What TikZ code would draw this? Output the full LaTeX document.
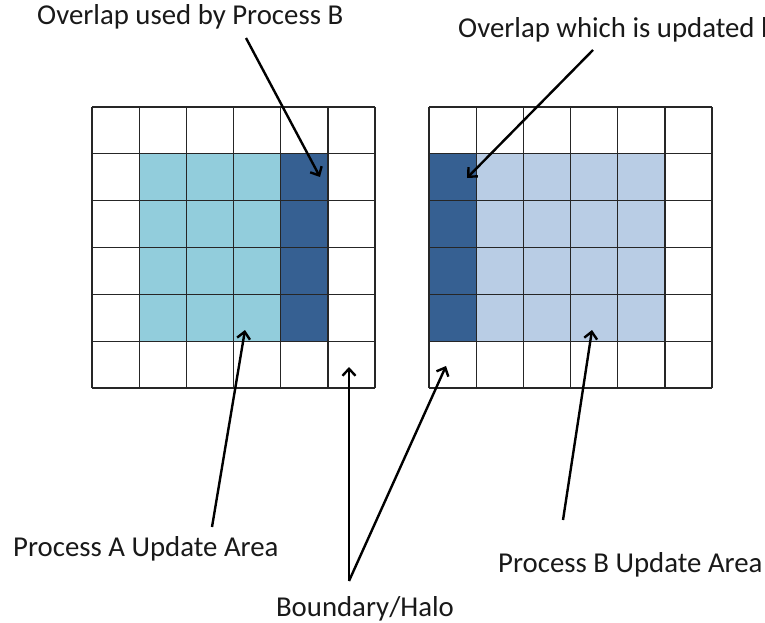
\documentclass[tikz,border=0pt]{standalone}
\usepackage{fontspec}
\setmainfont{Carlito}
\usepackage{xcolor}
\usetikzlibrary{arrows.meta}
\definecolor{areaA}{RGB}{146,205,220}
\definecolor{areaB}{RGB}{185,205,229}
\definecolor{overlap}{RGB}{54,96,146}
\newcommand{\cellw}{47.17}
\newcommand{\cellh}{46.83}
% six by six grid with its top left corner at (#1,#2)
\newcommand{\drawcellgrid}[2]{
    \foreach \i in {0,...,6}{
      \draw[gridline] (#1+\i*\cellw,#2)--(#1+\i*\cellw,#2+6*\cellh);
      \draw[gridline] (#1,#2+\i*\cellh)--(#1+6*\cellw,#2+\i*\cellh);
    }
}
\tikzset{
  gridline/.style={line width=1.3pt, black!85},
  pointer/.style={line width=2.4pt, -{Straight Barb[length=7pt,width=13pt,line width=2.4pt]}},
  caption/.style={inner sep=0pt, font=\fontsize{28.8}{33}\selectfont, text=black!90},
}

\begin{document}
\begin{tikzpicture}[x=1pt,y=-1pt]
\useasboundingbox (0,0) rectangle (765,623);
% coloured blocks
\fill[areaA] (92+\cellw,107+\cellh) rectangle (92+4*\cellw,107+5*\cellh);
    \fill[overlap] (92+4*\cellw,107+\cellh) rectangle (92+5*\cellw,107+5*\cellh);
    \fill[overlap] (429,107+\cellh) rectangle (429+\cellw,107+5*\cellh);
    \fill[areaB] (429+\cellw,107+\cellh) rectangle (429+5*\cellw,107+5*\cellh);
\drawcellgrid{92}{107}
\drawcellgrid{429}{107}
% labels
\node[caption, anchor=base west] (ovlB) at (37,25) {Overlap used by Process B};
\node[caption, anchor=base west] (ovlA) at (458,38) {Overlap which is updated by};
\node[caption, anchor=base west] (areaAlab) at (13,556) {Process A Update Area};
\node[caption, anchor=base west] (areaBlab) at (498,572) {Process B Update Area};
\node[caption, anchor=base] (halo) at (365,616) {Boundary/Halo};
% arrow ends
\coordinate (ovlBtail) at (246,38);  \coordinate (ovlBtip) at (320,177);
\coordinate (ovlAtail) at (593,50);  \coordinate (ovlAtip) at (467,178);
\coordinate (areaAtail) at (212,527); \coordinate (areaAtip) at (245,330);
\coordinate (areaBtail) at (563,520); \coordinate (areaBtip) at (592,330);
\coordinate (halofork) at (349,581);
\coordinate (haloL) at (349,367); \coordinate (haloR) at (446,366);
\draw[pointer] (ovlBtail)--(ovlBtip);
\draw[pointer] (ovlAtail)--(ovlAtip);
\draw[pointer] (areaAtail)--(areaAtip);
\draw[pointer] (areaBtail)--(areaBtip);
\draw[pointer] (halofork)--(haloL);
\draw[pointer] (halofork)--(haloR);
\end{tikzpicture}
\end{document}
